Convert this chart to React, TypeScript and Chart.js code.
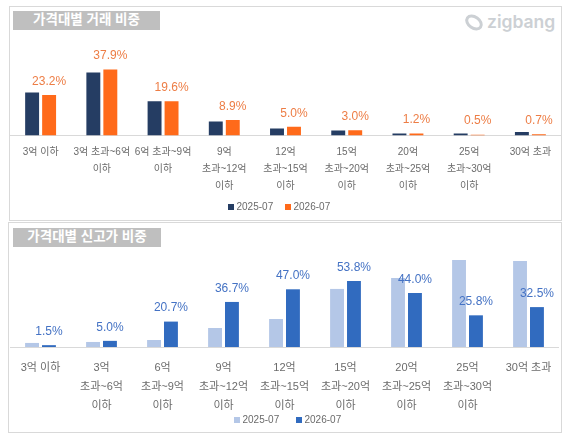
import React, { useEffect, useRef } from "react";
import Chart from "chart.js/auto";

const topCategories = [
  ["3억 이하"],
  ["3억 초과~6억", "이하"],
  ["6억 초과~9억", "이하"],
  ["9억", "초과~12억", "이하"],
  ["12억", "초과~15억", "이하"],
  ["15억", "초과~20억", "이하"],
  ["20억", "초과~25억", "이하"],
  ["25억", "초과~30억", "이하"],
  ["30억 초과"],
];
const topPrev = [24.7, 36.2, 19.6, 8.0, 4.0, 2.9, 1.2, 1.2, 2.0];
const topCurr = [23.2, 37.9, 19.6, 8.9, 5.0, 3.0, 1.2, 0.5, 0.7];

const bottomCategories = [
  ["3억 이하"],
  ["3억", "초과~6억", "이하"],
  ["6억", "초과~9억", "이하"],
  ["9억", "초과~12억", "이하"],
  ["12억", "초과~15억", "이하"],
  ["15억", "초과~20억", "이하"],
  ["20억", "초과~25억", "이하"],
  ["25억", "초과~30억", "이하"],
  ["30억 초과"],
];
const bottomPrev = [3.3, 4.1, 5.7, 15.5, 22.8, 47.3, 56.2, 70.9, 70.1];
const bottomCurr = [1.5, 5.0, 20.7, 36.7, 47.0, 53.8, 44.0, 25.8, 32.5];

const seriesNames = ["2025-07", "2026-07"];
const FONT = '"Liberation Sans", "Noto Sans CJK KR", sans-serif';

// percent labels above the second series
const valueLabels = {
  id: "valueLabels",
  afterDatasetsDraw(chart: any, _args: any, opts: any) {
    const { ctx } = chart;
    const meta = chart.getDatasetMeta(1);
    ctx.save();
    ctx.font = `12px ${FONT}`;
    ctx.fillStyle = opts.color;
    ctx.textAlign = "center";
    ctx.textBaseline = "middle";
    meta.data.forEach((bar: any, i: number) => {
      const v = chart.data.datasets[1].data[i];
      ctx.fillText(v.toFixed(1) + "%", bar.x, bar.y - opts.offset);
    });
    ctx.restore();
  },
};

// the built-in legend can't set the marker/text gap separately from item spacing
const legendRow = {
  id: "legendRow",
  afterDraw(chart: any, _args: any, opts: any) {
    const { ctx } = chart;
    ctx.save();
    ctx.font = `10px ${FONT}`;
    ctx.textBaseline = "middle";
    chart.data.datasets.forEach((ds: any, i: number) => {
      ctx.fillStyle = ds.backgroundColor;
      ctx.fillRect(opts.x[i], opts.y - 3, 6, 6);
      ctx.fillStyle = "#6b6b6b";
      ctx.fillText(ds.label, opts.x[i] + 8.5, opts.y);
    });
    ctx.restore();
  },
};

interface PanelProps {
  categories: string[][];
  prev: number[];
  curr: number[];
  prevColor: string;
  currColor: string;
  labelColor: string;
  max: number;
  tickSize: number;
  lineHeight: string;
  tickPadding: number;
  axisHeight: number;
  legendX: number[];
  legendY: number;
  style: React.CSSProperties;
}

const Panel: React.FC<PanelProps> = (p) => {
  const ref = useRef<HTMLCanvasElement | null>(null);

  useEffect(() => {
    if (!ref.current) return;
    const chart = new Chart(ref.current, {
      type: "bar",
      data: {
        labels: p.categories as any,
        datasets: [
          { label: seriesNames[0], data: p.prev, backgroundColor: p.prevColor },
          { label: seriesNames[1], data: p.curr, backgroundColor: p.currColor },
        ],
      },
      options: {
        responsive: false,
        animation: false,
        devicePixelRatio: 1,
        layout: { padding: 0 },
        datasets: { bar: { categoryPercentage: 0.555, barPercentage: 0.82 } },
        scales: {
          x: {
            grid: { display: false, drawTicks: false },
            border: { display: true, color: "#d9d9d9" },
            afterFit: (s: any) => {
              s.height = p.axisHeight;
              // tick padding would otherwise pull the plot in from the sides
              s.paddingLeft = 0;
              s.paddingRight = 0;
            },
            ticks: {
              autoSkip: false,
              maxRotation: 0,
              minRotation: 0,
              padding: p.tickPadding,
              color: "#6b6b6b",
              font: { family: FONT, size: p.tickSize, lineHeight: p.lineHeight },
            },
          },
          y: { display: false, min: 0, max: p.max },
        },
        plugins: {
          tooltip: { enabled: false },
          legend: { display: false },
          valueLabels: { color: p.labelColor, offset: 13.5 },
          legendRow: { x: p.legendX, y: p.legendY },
        } as any,
      },
      plugins: [valueLabels, legendRow],
    });
    return () => {
      chart.destroy();
    };
  }, []);

  return <canvas ref={ref} style={{ position: "absolute", ...p.style }} width={p.style.width as number} height={p.style.height as number} />;
};

const frame: React.CSSProperties = {
  position: "absolute",
  boxSizing: "border-box",
  border: "1px solid #d9d9d9",
  background: "#fff",
};
const titleBox: React.CSSProperties = {
  position: "absolute",
  background: "#bfbfbf",
  color: "#fff",
  fontFamily: FONT,
  fontWeight: 700,
  fontSize: 13.5,
  textAlign: "center",
  height: 19,
  lineHeight: "18px",
};

export default function App() {
  return (
    <div style={{ position: "absolute", left: 0, top: 0, width: 570, height: 441, background: "#fff", overflow: "hidden" }}>
      <div style={{ ...frame, left: 9, top: 6, width: 553, height: 215 }} />
      <div style={{ ...frame, left: 8, top: 222, width: 554, height: 211 }} />
      <div style={{ ...titleBox, left: 13, top: 11, width: 147 }}>가격대별 거래 비중</div>
      <div style={{ ...titleBox, left: 13, top: 228, width: 148 }}>가격대별 신고가 비중</div>
      <svg style={{ position: "absolute", left: 464, top: 13 }} width={20} height={19} viewBox="0 0 20 19">
        <ellipse cx="10" cy="9.5" rx="8" ry="5.5" transform="rotate(35 10 9.5)" fill="none" stroke="#ccd0d4" strokeWidth="3" />
      </svg>
      <div style={{ position: "absolute", left: 487, top: 10, fontFamily: '"Inter", sans-serif', fontWeight: 600, fontSize: 17.5, color: "#ccd0d4", lineHeight: "24px" }}>
        zigbang
      </div>
      <Panel
        categories={topCategories}
        prev={topPrev}
        curr={topCurr}
        prevColor="#253d63"
        currColor="#ff6a1a"
        labelColor="#ed7d45"
        max={73.8}
        tickSize={10}
        lineHeight="17px"
        tickPadding={8}
        axisHeight={84.5}
        legendX={[218, 275]}
        legendY={200}
        style={{ left: 10, top: 7, width: 551, height: 213 }}
      />
      <Panel
        categories={bottomCategories}
        prev={bottomPrev}
        curr={bottomCurr}
        prevColor="#b4c7e7"
        currColor="#316bbf"
        labelColor="#4472c4"
        max={101}
        tickSize={11}
        lineHeight="19.3px"
        tickPadding={11}
        axisHeight={85}
        legendX={[224, 286]}
        legendY={197}
        style={{ left: 10, top: 223, width: 549, height: 209 }}
      />
    </div>
  );
}
